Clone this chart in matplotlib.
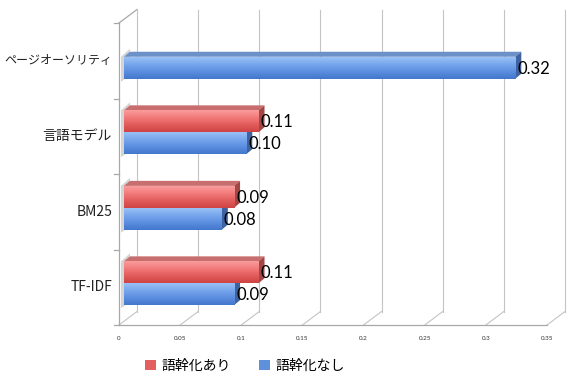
import numpy as np
import matplotlib
matplotlib.use('Agg')
import matplotlib.pyplot as plt
from matplotlib.patches import Polygon, Patch
from matplotlib.transforms import ScaledTranslation, IdentityTransform
from matplotlib.colors import LinearSegmentedColormap

plt.rcParams['font.family'] = ['Noto Sans CJK JP', 'DejaVu Sans']

# data
categories = ['ページオーソリティ', '言語モデル', 'BM25', 'TF-IDF']
stem_on = [np.nan, 0.11, 0.09, 0.11]    # 語幹化あり
stem_off = [0.32, 0.10, 0.08, 0.09]     # 語幹化なし
series_names = ['語幹化あり', '語幹化なし']
xticks = [0, 0.05, 0.1, 0.15, 0.2, 0.25, 0.3, 0.35]
xtick_labels = ['0', '0.05', '0.1', '0.15', '0.2', '0.25', '0.3', '0.35']

W, H = 580, 386
fig = plt.figure(figsize=(W / 100, H / 100), dpi=100)
ax = fig.add_axes([119 / W, 1 - 325 / H, (547 - 119) / W, (325 - 23) / H])
ax.set_xlim(0, 0.35)
ax.set_ylim(-0.5, 3.5)
ax.axis('off')

ypos = np.arange(len(categories))[::-1]   # first category on top
h = 0.29

BACK = (18, 13.5)   # depth of the box, pixels
FACE = (5, 4)       # front face of the bars
DEPTH = (6, 5)      # thickness of the bars


def shift(dx, dy):
    return ax.transData + ScaledTranslation(dx / 100, dy / 100, fig.dpi_scale_trans)


def to_px(x, y, off=(0, 0)):
    p = ax.transData.transform((x, y))
    return p[0] + off[0], p[1] + off[1]


def seg(p, q, **kw):
    ax.plot([p[0], q[0]], [p[1], q[1]], transform=IdentityTransform(), clip_on=False, **kw)


grid_c = '#c4c4c4'
# back wall gridlines
for v, lab in zip(xticks, xtick_labels):
    ax.plot([v, v], [-0.5, 3.5], color=grid_c, lw=0.8, transform=shift(*BACK), clip_on=False)
    seg(to_px(v, -0.5), to_px(v, -0.5, BACK), color=grid_c, lw=0.8)
    ax.text(v, -0.5, lab, transform=shift(0, -13), ha='center', va='center',
            fontsize=4.5, family='Lato', color='#333333')

# floor front edge and left wall
seg(to_px(0, -0.5), to_px(0.35, -0.5), color='#a8a8a8', lw=0.9)
seg(to_px(0, -0.5), to_px(0, 3.5), color='#a8a8a8', lw=0.9)
seg(to_px(0, 3.5), to_px(0, 3.5, BACK), color='#a8a8a8', lw=0.9)
for b in np.arange(-0.5, 3.6, 1.0):
    seg(to_px(0, b), to_px(0, b, (-5, 0)), color='#a8a8a8', lw=0.9)

# shadows on the left wall
for i, y in enumerate(ypos):
    lo = y - h
    hi = y if np.isnan(stem_on[i]) else y + h
    pts = [to_px(0, lo, (2, 1)), to_px(0, lo, (FACE[0] + DEPTH[0], FACE[1] + DEPTH[1] - 2)),
           to_px(0, hi, (FACE[0] + DEPTH[0], FACE[1] + DEPTH[1] + 3)), to_px(0, hi, (2, 4))]
    ax.add_patch(Polygon(pts, closed=True, facecolor='#b8b8b8', edgecolor='none', alpha=0.6,
                         transform=IdentityTransform(), clip_on=False))

styles = {
    '語幹化あり': dict(grad=['#fa9c9c', '#f27a7a', '#e25c5c', '#cf4444'], top='#c86e6e', side='#a34646'),
    '語幹化なし': dict(grad=['#98c0f6', '#78a6ec', '#5b8ee0', '#4478cc'], top='#6c90c8', side='#3e63a0'),
}

# blue bars first so the red ones sit over them
for name, vals, base in [('語幹化なし', stem_off, ypos - h), ('語幹化あり', stem_on, ypos)]:
    st = styles[name]
    cmap = LinearSegmentedColormap.from_list(name, st['grad'])
    bars = ax.barh(base, vals, height=h, align='edge', color=st['grad'][2],
                   transform=shift(*FACE), zorder=3)
    for bar, v in zip(bars, vals):
        if np.isnan(v):
            continue
        x0, y0, w, hh = bar.get_x(), bar.get_y(), bar.get_width(), bar.get_height()
        x1, y1 = x0 + w, y0 + hh
        ax.imshow(np.linspace(0, 1, 32).reshape(-1, 1), extent=(x0, x1, y0, y1), aspect='auto',
                  cmap=cmap, origin='upper', transform=shift(*FACE), zorder=3.5)
        d = (FACE[0] + DEPTH[0], FACE[1] + DEPTH[1])
        top = [to_px(x0, y1, FACE), to_px(x1, y1, FACE), to_px(x1, y1, d), to_px(x0, y1, d)]
        side = [to_px(x1, y0, FACE), to_px(x1, y0, d), to_px(x1, y1, d), to_px(x1, y1, FACE)]
        ax.add_patch(Polygon(top, closed=True, facecolor=st['top'], edgecolor='none',
                             transform=IdentityTransform(), zorder=3.4, clip_on=False))
        ax.add_patch(Polygon(side, closed=True, facecolor=st['side'], edgecolor='none',
                             transform=IdentityTransform(), zorder=3.4, clip_on=False))
        ax.text(x1, (y0 + y1) / 2, f'{v:.2f}', transform=shift(FACE[0] + 2, FACE[1] - 1),
                ha='left', va='center', fontsize=12, family='Lato', color='black', zorder=5)

ax.set_xlim(0, 0.35)
ax.set_ylim(-0.5, 3.5)

# category labels, shrunk only when they would not fit left of the axis
renderer = fig.canvas.get_renderer()
for y, c in zip(ypos, categories):
    t = ax.text(0, y, c, transform=shift(-7, 0), ha='right', va='center', fontsize=10, color='#222222')
    wpx = t.get_window_extent(renderer).width
    if wpx > 108:
        t.set_fontsize(10 * 108 / wpx)

handles = [Patch(facecolor='#e46060', edgecolor='none'), Patch(facecolor='#5f90dc', edgecolor='none')]
fig.legend(handles, series_names, loc='center', bbox_to_anchor=(245 / W, 20 / H), ncol=2,
           frameon=False, fontsize=10, handlelength=0.8, handleheight=0.8,
           handletextpad=0.4, columnspacing=2.0)

fig.savefig('out.png', dpi=100)
